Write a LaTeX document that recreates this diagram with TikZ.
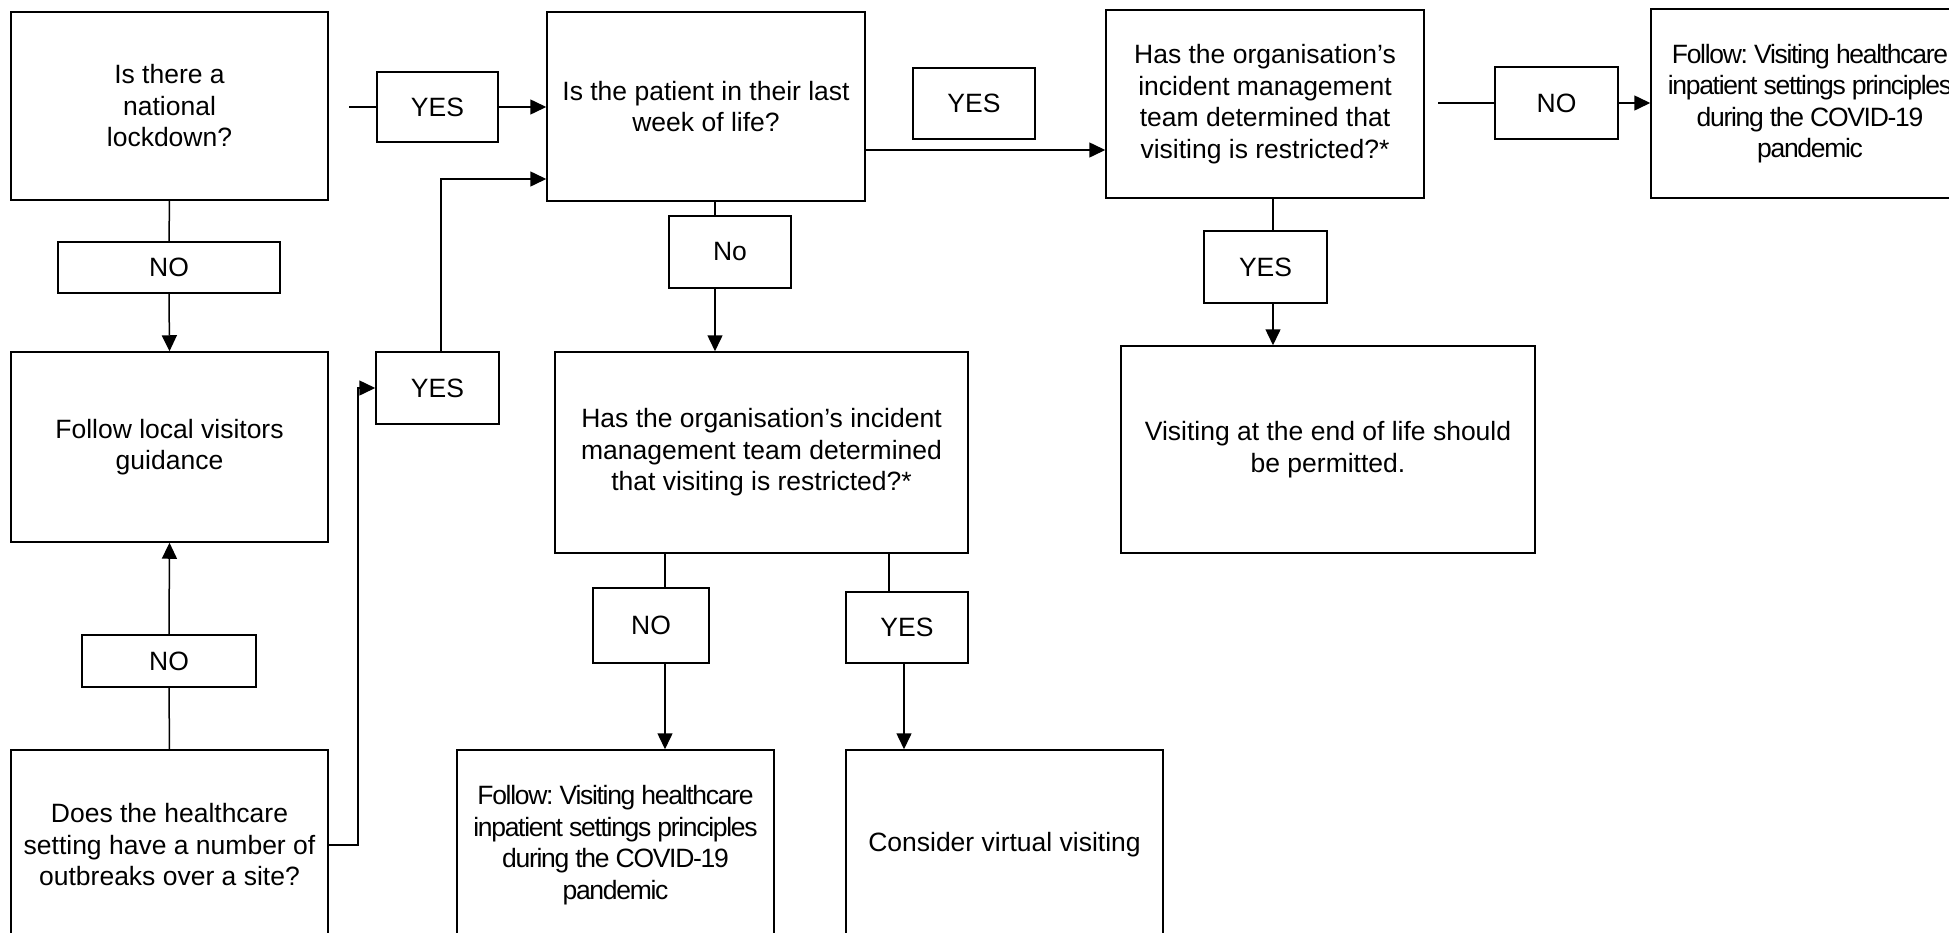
\documentclass[tikz,border=0pt]{standalone}
\usepackage{fontspec}
\setmainfont{Liberation Sans}
\newfontfamily\condfont[LetterSpace=-4.9]{Liberation Sans}
\usetikzlibrary{arrows.meta}
\frenchspacing
\begin{document}
\begin{tikzpicture}[x=1pt, y=-1pt,
  font=\fontsize{26.5}{31.5}\selectfont,
  box/.style={draw, line width=1.5pt, rectangle, align=center, inner sep=0pt},
  conn/.style={line width=1.5pt},
  arr/.style={conn, -{Triangle[length=16pt,width=15pt]}}]
\useasboundingbox (0,0) rectangle (1949,932);
\fill[white] (0,0) rectangle (1949,932);
\clip (0,0) rectangle (1949,932);

% main boxes
\node[box, minimum width=317pt, minimum height=188pt] (A) at (169.5,106) {Is there a\\national\\lockdown?};
\node[box, minimum width=317pt, minimum height=190pt] (E) at (169.5,447) {Follow local visitors\\guidance};
\node[box, minimum width=317pt, minimum height=190pt] (F) at (169.5,845) {Does the healthcare\\setting have a number of\\outbreaks over a site?};
\node[box, minimum width=318pt, minimum height=189pt] (B) at (706,106.5) {Is the patient in their last\\week of life?};
\node[box, minimum width=413pt, minimum height=201pt] (G) at (761.5,452.5) {Has the organisation’s incident\\management team determined\\that visiting is restricted?*};
\node[box, minimum width=317pt, minimum height=190pt] (H) at (615.5,845) {\condfont Follow: Visiting healthcare\\\condfont inpatient settings principles\\\condfont during the COVID-19\\\condfont pandemic};
\node[box, minimum width=317pt, minimum height=190pt] (I) at (1004.5,845) {Consider virtual visiting};
\node[box, minimum width=318pt, minimum height=188pt] (C) at (1265,104) {Has the organisation’s\\incident management\\team determined that\\visiting is restricted?*};
\node[box, minimum width=414pt, minimum height=207pt] (J) at (1328,449.5) {Visiting at the end of life should\\be permitted.};
\node[box, minimum width=318pt, minimum height=189pt] (D) at (1810,103.5) {\condfont Follow: Visiting healthcare\\\condfont inpatient settings principles\\\condfont during the COVID-19\\\condfont pandemic};

% labels
\node[box, minimum width=222pt, minimum height=51pt] (NOa) at (169,267.5) {NO};
\node[box, minimum width=174pt, minimum height=52pt] (NOb) at (169,661) {NO};
\node[box, minimum width=121pt, minimum height=70pt] (YESa) at (437.5,107) {YES};
\node[box, minimum width=123pt, minimum height=72pt] (YESb) at (437.5,388) {YES};
\node[box, minimum width=122pt, minimum height=72pt] (No) at (730,252) {No};
\node[box, minimum width=116pt, minimum height=75pt] (NOc) at (651,625.5) {NO};
\node[box, minimum width=122pt, minimum height=71pt] (YESd) at (907,627.5) {YES};
\node[box, minimum width=122pt, minimum height=71pt] (YESc) at (974,103.5) {YES};
\node[box, minimum width=123pt, minimum height=72pt] (YESe) at (1265.5,267) {YES};
\node[box, minimum width=123pt, minimum height=72pt] (NOd) at (1556.5,103) {NO};

% helper coordinates
\coordinate (ya) at (349,107);
\coordinate (nd) at (1438,103);
\coordinate (ly) at (0,179);
\coordinate (lbc) at (0,150);
\coordinate (x715) at (715,0);
\coordinate (x665) at (665,0);
\coordinate (x889) at (889,0);
\coordinate (x904) at (904,0);
\coordinate (x1273) at (1273,0);

% connectors
\draw[conn] (A.south) -- (NOa.north);
\draw[arr] (NOa.south) -- (E.north);
\draw[conn] (F.north) -- (NOb.south);
\draw[arr] (NOb.north) -- (E.south);
\draw[arr] (F.east) -- ++(29,0) |- (YESb.west);
\draw[arr] ([xshift=3.5pt]YESb.north) |- (B.west |- ly);
\draw[conn] (ya) -- (YESa.west);
\draw[arr] (YESa.east) -- (B.west |- YESa.east);
\draw[conn] (B.south -| x715) -- (No.north -| x715);
\draw[arr] (No.south -| x715) -- (G.north -| x715);
\draw[conn] (G.south -| x665) -- (NOc.north -| x665);
\draw[arr] (NOc.south -| x665) -- (H.north -| x665);
\draw[conn] (G.south -| x889) -- (YESd.north -| x889);
\draw[arr] (YESd.south -| x904) -- (I.north -| x904);
\draw[arr] (B.east |- lbc) -- (C.west |- lbc);
\draw[conn] (C.south -| x1273) -- (YESe.north -| x1273);
\draw[arr] (YESe.south -| x1273) -- (J.north -| x1273);
\draw[conn] (nd) -- (NOd.west);
\draw[arr] (NOd.east) -- (D.west |- NOd.east);
\end{tikzpicture}
\end{document}
